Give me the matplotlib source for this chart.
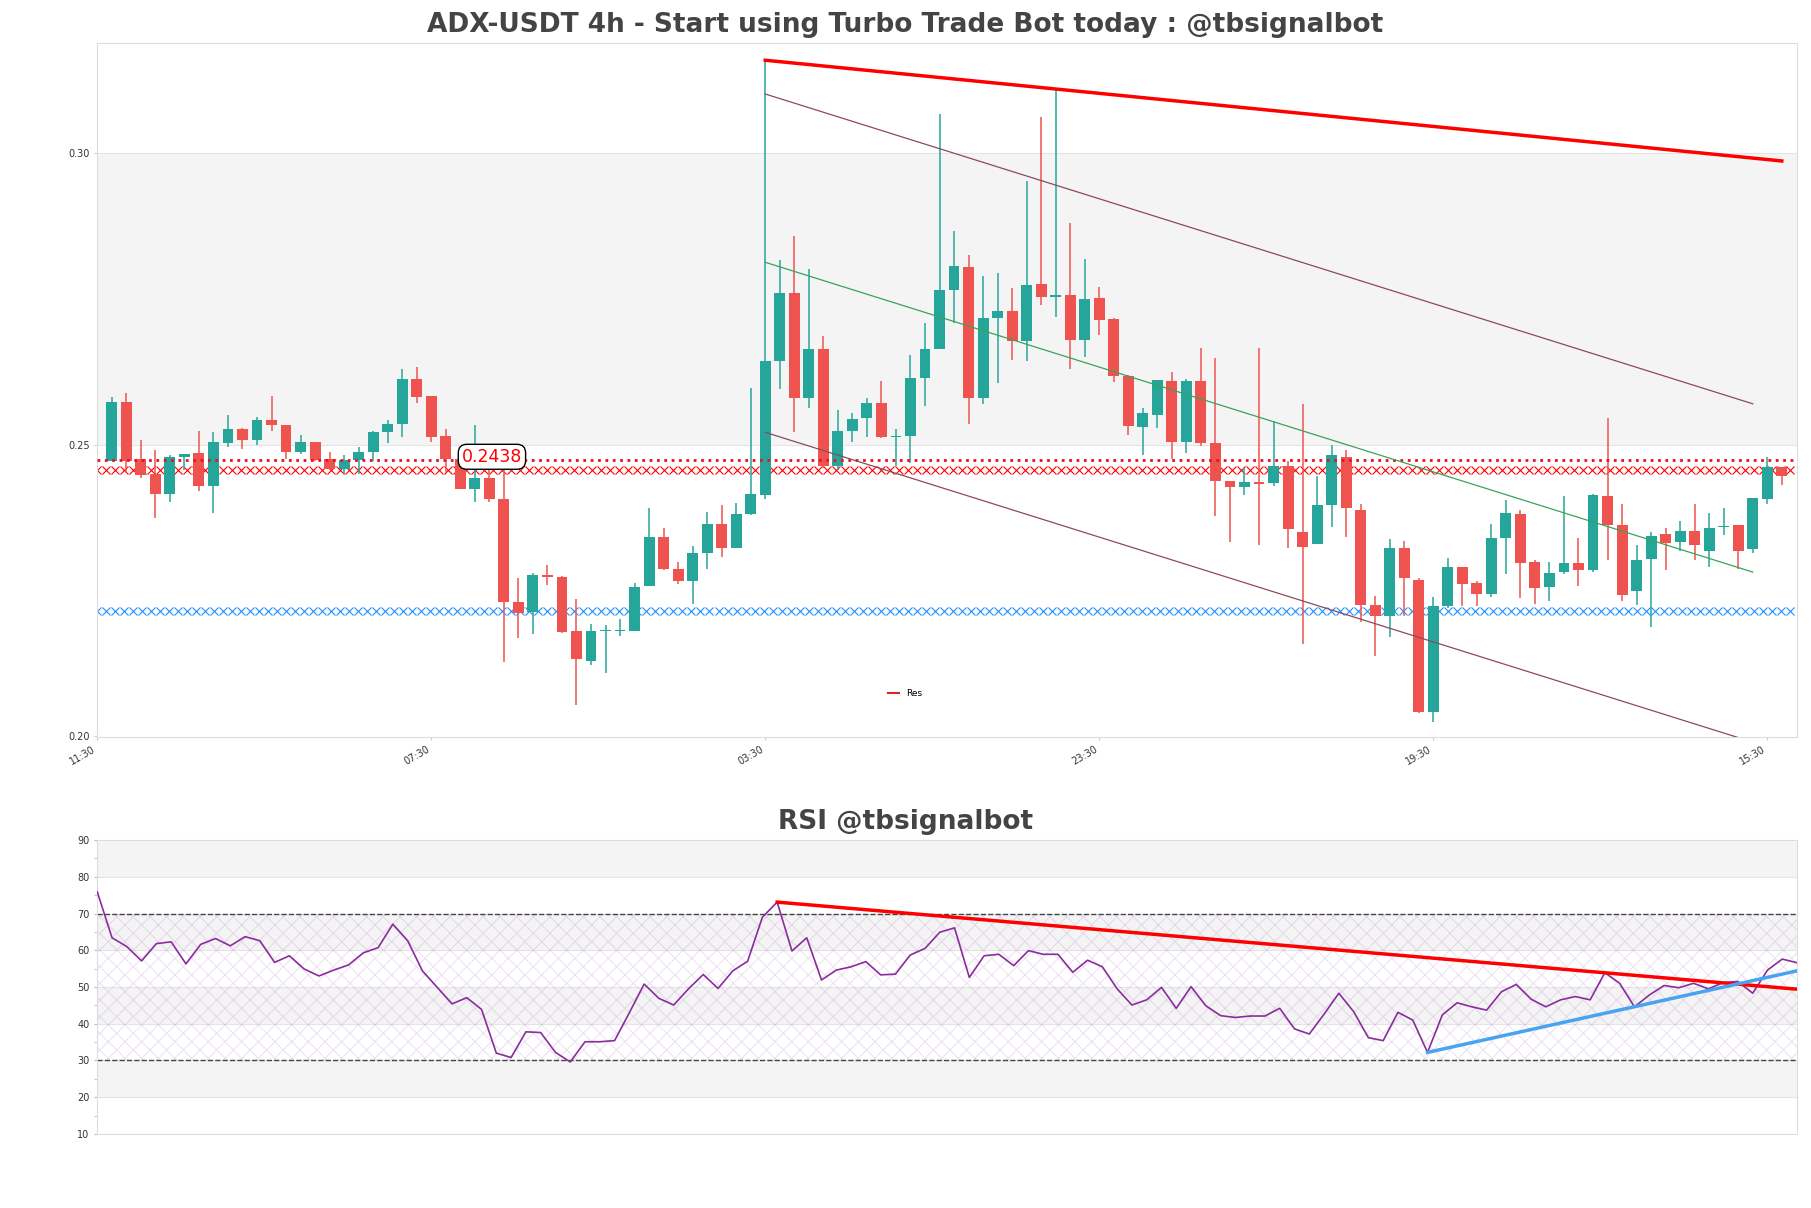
import numpy as np
import matplotlib.pyplot as plt

# candles (4h)
opens = [0.2472, 0.2573, 0.2475, 0.2450, 0.2415, 0.2479, 0.2485, 0.2429, 0.2502, 0.2526,
         0.2508, 0.2542, 0.2534, 0.2487, 0.2505, 0.2475, 0.2458, 0.2473, 0.2487, 0.2521,
         0.2535, 0.2613, 0.2583, 0.2514, 0.2475, 0.2424, 0.2442, 0.2407, 0.2229, 0.2212,
         0.2276, 0.2272, 0.2179, 0.2128, 0.2179, 0.2180, 0.2180, 0.2257, 0.2341, 0.2287,
         0.2265, 0.2313, 0.2364, 0.2323, 0.2381, 0.2414, 0.2643, 0.2761, 0.2580, 0.2664,
         0.2463, 0.2524, 0.2545, 0.2572, 0.2513, 0.2515, 0.2615, 0.2664, 0.2765, 0.2805,
         0.2580, 0.2717, 0.2729, 0.2677, 0.2775, 0.2754, 0.2756, 0.2680, 0.2752, 0.2716,
         0.2618, 0.2530, 0.2551, 0.2610, 0.2504, 0.2610, 0.2502, 0.2438, 0.2427, 0.2435,
         0.2434, 0.2463, 0.2350, 0.2330, 0.2397, 0.2479, 0.2387, 0.2224, 0.2205, 0.2323,
         0.2267, 0.2041, 0.2222, 0.2289, 0.2262, 0.2243, 0.2339, 0.2381, 0.2299, 0.2255,
         0.2281, 0.2297, 0.2284, 0.2412, 0.2362, 0.2249, 0.2304, 0.2346, 0.2333, 0.2352,
         0.2318, 0.2358, 0.2362, 0.2320, 0.2407, 0.2462]
highs = [0.2582, 0.2589, 0.2507, 0.2490, 0.2482, 0.2484, 0.2524, 0.2521, 0.2550, 0.2528,
         0.2547, 0.2584, 0.2534, 0.2517, 0.2505, 0.2488, 0.2482, 0.2496, 0.2524, 0.2542,
         0.2630, 0.2633, 0.2583, 0.2526, 0.2478, 0.2534, 0.2459, 0.2456, 0.2270, 0.2280,
         0.2293, 0.2275, 0.2235, 0.2192, 0.2190, 0.2200, 0.2263, 0.2391, 0.2356, 0.2299,
         0.2326, 0.2385, 0.2396, 0.2400, 0.2597, 0.3161, 0.2817, 0.2859, 0.2801, 0.2687,
         0.2560, 0.2555, 0.2580, 0.2609, 0.2526, 0.2653, 0.2709, 0.3067, 0.2866, 0.2825,
         0.2790, 0.2794, 0.2769, 0.2953, 0.3062, 0.3109, 0.2880, 0.2819, 0.2771, 0.2717,
         0.2620, 0.2563, 0.2611, 0.2624, 0.2612, 0.2666, 0.2649, 0.2438, 0.2459, 0.2666,
         0.2541, 0.2471, 0.2569, 0.2446, 0.2500, 0.2490, 0.2398, 0.2240, 0.2337, 0.2334,
         0.2270, 0.2238, 0.2305, 0.2289, 0.2265, 0.2364, 0.2404, 0.2387, 0.2301, 0.2299,
         0.2412, 0.2339, 0.2415, 0.2546, 0.2398, 0.2328, 0.2349, 0.2357, 0.2368, 0.2398,
         0.2383, 0.2391, 0.2362, 0.2408, 0.2479, 0.2462]
lows = [0.2472, 0.2452, 0.2442, 0.2374, 0.2402, 0.2456, 0.2421, 0.2383, 0.2495, 0.2492,
        0.2499, 0.2523, 0.2475, 0.2484, 0.2471, 0.2456, 0.2450, 0.2450, 0.2471, 0.2502,
        0.2513, 0.2572, 0.2505, 0.2452, 0.2424, 0.2402, 0.2401, 0.2127, 0.2167, 0.2175,
        0.2258, 0.2176, 0.2052, 0.2121, 0.2108, 0.2171, 0.2179, 0.2257, 0.2284, 0.2261,
        0.2226, 0.2287, 0.2307, 0.2323, 0.2379, 0.2406, 0.2595, 0.2521, 0.2563, 0.2459,
        0.2456, 0.2505, 0.2513, 0.2511, 0.2463, 0.2469, 0.2567, 0.2664, 0.2708, 0.2536,
        0.2570, 0.2605, 0.2646, 0.2643, 0.2740, 0.2719, 0.2630, 0.2651, 0.2689, 0.2607,
        0.2517, 0.2482, 0.2528, 0.2475, 0.2485, 0.2498, 0.2378, 0.2333, 0.2414, 0.2328,
        0.2429, 0.2322, 0.2158, 0.2330, 0.2359, 0.2341, 0.2196, 0.2137, 0.2169, 0.2206,
        0.2039, 0.2024, 0.2219, 0.2222, 0.2222, 0.2238, 0.2278, 0.2236, 0.2226, 0.2232,
        0.2278, 0.2257, 0.2282, 0.2301, 0.2232, 0.2224, 0.2186, 0.2284, 0.2318, 0.2301,
        0.2289, 0.2345, 0.2287, 0.2314, 0.2398, 0.2431]
closes = [0.2573, 0.2472, 0.2448, 0.2415, 0.2479, 0.2484, 0.2429, 0.2504, 0.2526, 0.2508,
          0.2542, 0.2534, 0.2487, 0.2505, 0.2473, 0.2458, 0.2473, 0.2488, 0.2521, 0.2536,
          0.2612, 0.2581, 0.2513, 0.2475, 0.2424, 0.2442, 0.2406, 0.2229, 0.2211, 0.2276,
          0.2272, 0.2178, 0.2131, 0.2179, 0.2181, 0.2181, 0.2255, 0.2341, 0.2286, 0.2265,
          0.2313, 0.2364, 0.2322, 0.2381, 0.2415, 0.2643, 0.2761, 0.2580, 0.2664, 0.2463,
          0.2524, 0.2544, 0.2572, 0.2513, 0.2515, 0.2615, 0.2664, 0.2765, 0.2807, 0.2580,
          0.2718, 0.2729, 0.2677, 0.2774, 0.2754, 0.2756, 0.2680, 0.2750, 0.2714, 0.2618,
          0.2532, 0.2555, 0.2611, 0.2504, 0.2610, 0.2502, 0.2438, 0.2427, 0.2435, 0.2433,
          0.2463, 0.2355, 0.2324, 0.2397, 0.2482, 0.2391, 0.2224, 0.2205, 0.2323, 0.2270,
          0.2041, 0.2222, 0.2289, 0.2261, 0.2243, 0.2339, 0.2383, 0.2297, 0.2253, 0.2280,
          0.2297, 0.2284, 0.2414, 0.2362, 0.2242, 0.2301, 0.2343, 0.2331, 0.2352, 0.2328,
          0.2356, 0.2359, 0.2318, 0.2408, 0.2462, 0.2446]

time_labels = ['11:30', '07:30', '03:30', '23:30', '19:30', '15:30']

rsi = [75.9, 63.4, 61.0, 57.1, 61.8, 62.3, 56.3, 61.6, 63.2, 61.2,
       63.7, 62.6, 56.7, 58.5, 54.9, 53.0, 54.6, 56.0, 59.3, 60.7,
       67.1, 62.6, 54.4, 49.9, 45.4, 47.1, 43.9, 32.0, 30.8, 37.8,
       37.6, 32.2, 29.6, 35.1, 35.1, 35.4, 43.0, 50.8, 46.9, 45.1,
       49.5, 53.4, 49.6, 54.4, 57.0, 69.0, 73.1, 59.8, 63.4, 51.9,
       54.6, 55.5, 56.9, 53.3, 53.5, 58.7, 60.5, 64.9, 66.1, 52.6,
       58.5, 58.9, 55.8, 59.9, 58.9, 58.9, 54.0, 57.3, 55.5, 49.5,
       45.1, 46.5, 49.9, 44.2, 50.1, 44.9, 42.2, 41.7, 42.1, 42.1,
       44.2, 38.6, 37.2, 42.6, 48.3, 43.3, 36.2, 35.4, 43.1, 41.0,
       32.2, 42.4, 45.7, 44.6, 43.7, 48.7, 50.7, 46.7, 44.6, 46.5,
       47.4, 46.5, 53.9, 51.0, 44.6, 47.8, 50.4, 49.8, 51.0, 49.5,
       51.2, 51.5, 48.3, 54.6, 57.6, 56.6]

# levels and trend lines
res_level = 0.2474
price_label = '0.2438'
res_zone = (0.2450, 0.2462)
sup_zone = (0.2209, 0.2221)
res_trend = ([45, 115], [0.3160, 0.2987])
chan_top = ([45, 113], [0.3102, 0.2570])
chan_mid = ([45, 113], [0.2813, 0.2281])
chan_bot = ([45, 113], [0.2521, 0.1989])
rsi_res = ([46, 115], [73.1, 49.4])
rsi_sup = ([90, 115], [32.2, 54.4])

up_col = '#26a69a'
down_col = '#ef5350'
band_col = '#f4f4f4'
spine_col = '#dddddd'

plt.rcParams['hatch.linewidth'] = 0.7

fig = plt.figure(figsize=(18.11, 12.08), dpi=100)
left, width = 0.0537, 0.9386
ax = fig.add_axes([left, 0.390, width, 0.5746])
ax2 = fig.add_axes([left, 0.0613, width, 0.2433])
mid_x = (0.5 - left) / width   # figure centre in axes fraction

# ---- price chart ----
o = np.array(opens)
h = np.array(highs)
l = np.array(lows)
c = np.array(closes)
x = np.arange(len(o))
cols = np.where(c >= o, up_col, down_col)
body = np.maximum(np.abs(c - o), 0.00015)

ax.axhspan(0.25, 0.30, color=band_col, zorder=0, lw=0)
for yv in [0.25, 0.30]:
    ax.axhline(yv, color='#e4e4e4', lw=0.8, zorder=0.5)

ax.vlines(x, l, h, colors=cols, lw=1.1, zorder=2)
ax.bar(x, body, bottom=np.minimum(o, c), width=0.75, color=cols, zorder=3)

ax.axhline(res_level, color='#e8141c', ls=':', lw=2, zorder=4)

# cross-hatched zones drawn as a row of x marks
xs = np.arange(-1, 116.05, 0.62)
for zone, zc in [(res_zone, 'red'), (sup_zone, '#1e90ff')]:
    ax.plot(xs, np.full(len(xs), sum(zone) / 2), ls='none', marker='x', ms=6.3,
            mew=0.8, color=zc, zorder=1)

ax.plot(*res_trend, color='red', lw=2.5, zorder=5)
ax.plot(*chan_top, color='#8c4a5c', lw=0.9, zorder=4)
ax.plot(*chan_mid, color='#3aa35a', lw=0.9, zorder=4)
ax.plot(*chan_bot, color='#8c4a5c', lw=0.9, zorder=4)
ax.plot([], [], color='#d62728', lw=1.5, label='Res')

ax.text(24.1, res_level + 0.0005, price_label, color='red', fontsize=12.5, ha='left', va='center',
        zorder=6, bbox=dict(boxstyle='round,pad=0.2,rounding_size=0.5', fc='white', ec='black', lw=1))

ax.set_xlim(-1, 116.05)
ax.set_ylim(0.1998, 0.3190)
ax.set_yticks([0.20, 0.25, 0.30])
ax.set_yticklabels(['0.20', '0.25', '0.30'])
ax.set_xticks(np.arange(-1, len(o), 23))
ax.set_xticklabels(time_labels, rotation=30, ha='right')
ax.tick_params(labelsize=7, colors='#cccccc', labelcolor='#333333', length=2)
ax.legend(loc='center', bbox_to_anchor=(mid_x, 0.062), frameon=False, fontsize=6.5, handlelength=1.2)
ax.set_title('ADX-USDT 4h - Start using Turbo Trade Bot today : @tbsignalbot', x=mid_x,
             fontsize=19, fontweight='bold', color='#444444', pad=8)

# ---- RSI ----
r = np.array(rsi)
xr = np.arange(len(r))
for lo in [20, 40, 60, 80]:
    ax2.axhspan(lo, lo + 10, color=band_col, zorder=0, lw=0)
for yv in range(20, 90, 10):
    ax2.axhline(yv, color='#e4e4e4', lw=0.8, zorder=0.5)
ax2.fill_between([0, len(r) - 1], 30, 70, facecolor='none', edgecolor=(0.6, 0.3, 0.7, 0.18),
                 hatch='xx', lw=0, zorder=1)
ax2.axhline(70, color='#444444', ls='--', lw=1, zorder=2)
ax2.axhline(30, color='#444444', ls='--', lw=1, zorder=2)
ax2.plot(xr, r, color='#8b2c9e', lw=1.2, zorder=3)
ax2.plot(*rsi_res, color='red', lw=2.5, zorder=4)
ax2.plot(*rsi_sup, color='#4aa3f0', lw=2.5, zorder=4)

ax2.set_xlim(0, len(r) - 1)
ax2.set_ylim(10, 90)
ax2.set_yticks(range(10, 91, 10))
ax2.set_yticks(range(15, 90, 10), minor=True)
ax2.set_xticks([])
ax2.tick_params(labelsize=7, colors='#bbbbbb', labelcolor='#333333', length=2)
ax2.tick_params(which='minor', length=2, colors='#bbbbbb')
ax2.set_title('RSI @tbsignalbot', x=mid_x, fontsize=19, fontweight='bold', color='#444444', pad=8)

for a in [ax, ax2]:
    for s in a.spines.values():
        s.set_color(spine_col)
        s.set_linewidth(0.8)

fig.savefig('out.png', dpi=100)
